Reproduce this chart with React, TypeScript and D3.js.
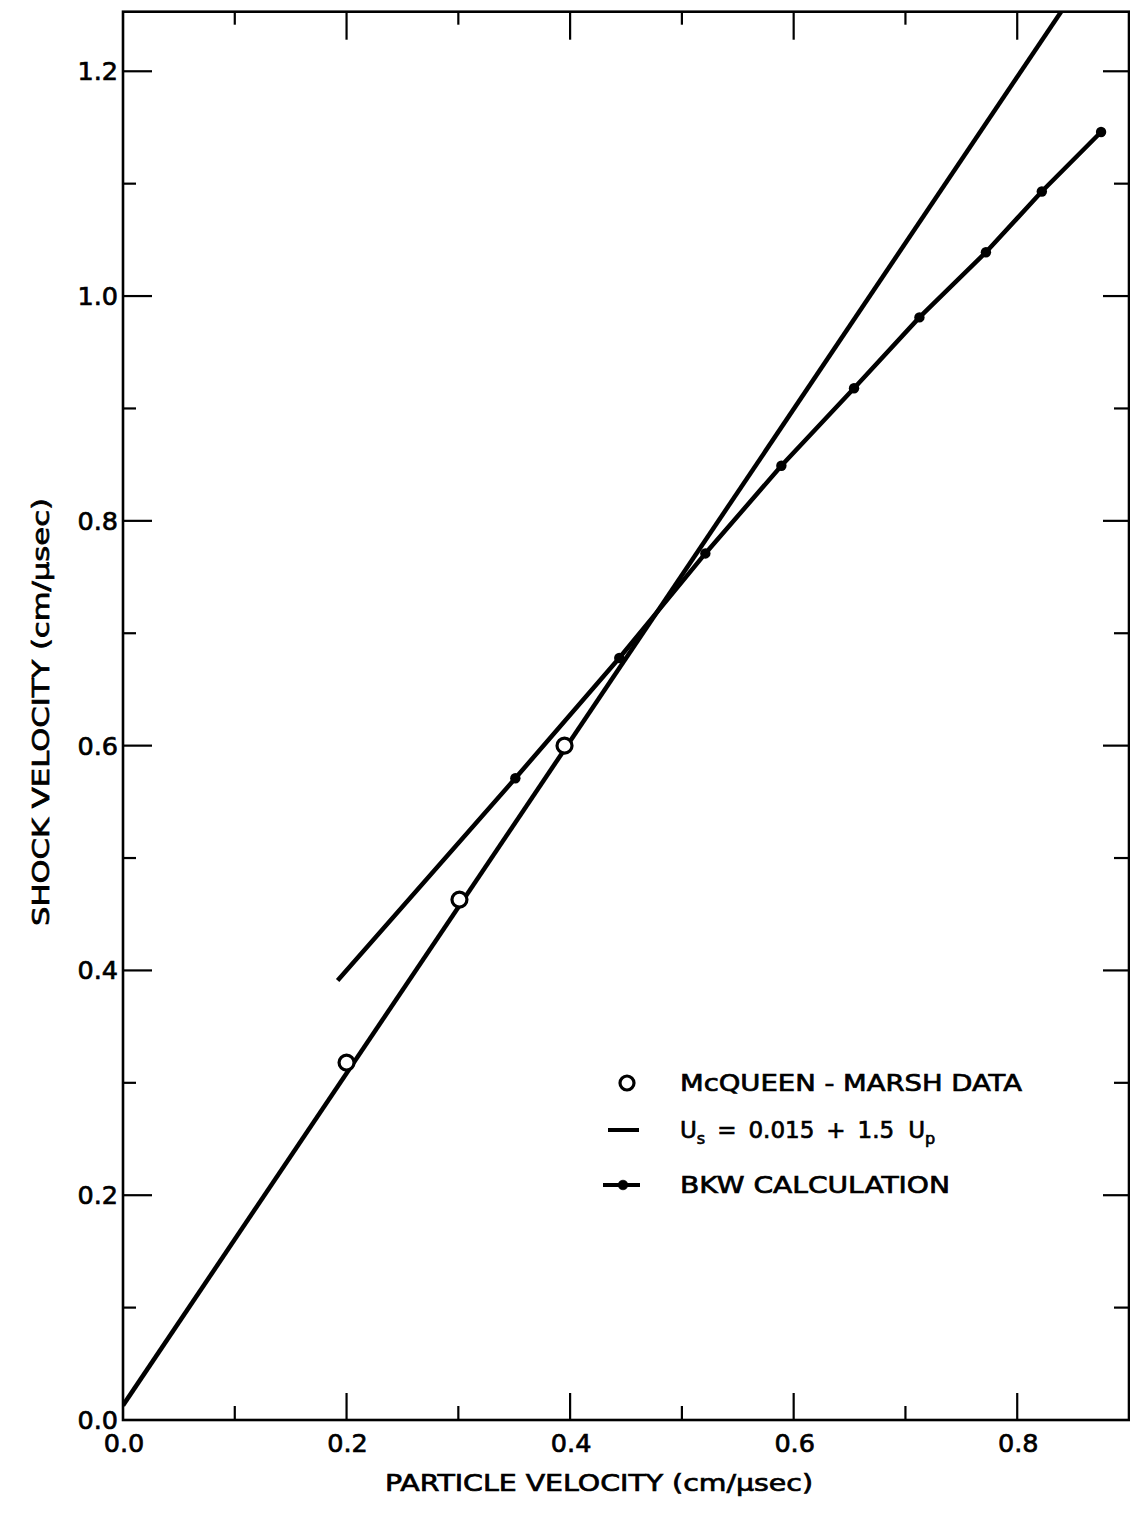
import React from "react";
import * as d3 from "d3";

// ---- data ----
const mcqueenUp = [0.2, 0.301, 0.395];
const mcqueenUs = [0.318, 0.463, 0.6];

const fitUp = [0, 0.84];
const fitUs = [0.013, 1.254];

const bkwUp = [0.192, 0.351, 0.444, 0.521, 0.589, 0.654, 0.7125, 0.772, 0.822, 0.875];
const bkwUs = [0.391, 0.571, 0.678, 0.771, 0.849, 0.918, 0.981, 1.039, 1.093, 1.146];
const bkwDot = [false, true, true, true, true, true, true, true, true, true];

const xTicks = [0, 0.1, 0.2, 0.3, 0.4, 0.5, 0.6, 0.7, 0.8];
const xTickLabels = ["0.0", "", "0.2", "", "0.4", "", "0.6", "", "0.8"];
const yTicks = [0, 0.1, 0.2, 0.3, 0.4, 0.5, 0.6, 0.7, 0.8, 0.9, 1.0, 1.1, 1.2];
const yTickLabels = ["0.0", "", "0.2", "", "0.4", "", "0.6", "", "0.8", "", "1.0", "", "1.2"];

const legendLabels = ["McQUEEN - MARSH DATA", "BKW CALCULATION"];

const W = 1130;
const H = 1517;
const L = 123;
const R = 1129;
const T = 11.7;
const B = 1420;

const FONT = "'DejaVu Sans', 'Liberation Sans', Arial, sans-serif";
const TXT = { fontFamily: FONT, stroke: "#000", strokeWidth: 0.7 } as const;

export default function App() {
  const x = d3.scaleLinear().domain([0, 0.9]).range([L, R]);
  const y = d3.scaleLinear().domain([0, 1.253]).range([B, T]);

  const fitLine = d3
    .line<number>()
    .x((_, i) => x(fitUp[i]))
    .y((d) => y(d));
  const bkwLine = d3
    .line<number>()
    .x((_, i) => x(bkwUp[i]))
    .y((d) => y(d));

  const stroke = "#000";

  return (
    <svg
      width={W}
      height={H}
      viewBox={`0 0 ${W} ${H}`}
      style={{ position: "absolute", left: 0, top: 0, background: "#fff" }}
    >
      <rect x={0} y={0} width={W} height={H} fill="#fff" />
      <defs>
        <clipPath id="plotclip">
          <rect x={L} y={T} width={R - L} height={B - T} />
        </clipPath>
      </defs>

      {/* frame */}
      <rect x={L} y={T} width={R - L} height={B - T} fill="none" stroke={stroke} strokeWidth={2.6} />

      {/* x ticks bottom & top */}
      {xTicks.map((t, i) => {
        const major = xTickLabels[i] !== "";
        const px = x(t);
        return (
          <g key={"xt" + i}>
            {i > 0 && (
              <>
                <line x1={px} x2={px} y1={B} y2={B - (major ? 27 : 14)} stroke={stroke} strokeWidth={2.2} />
                <line x1={px} x2={px} y1={T} y2={T + (major ? 28 : 13)} stroke={stroke} strokeWidth={2.2} />
              </>
            )}
            {major && (
              <text x={px + 1} y={1443} textAnchor="middle" dominantBaseline="central" fontSize={25.5} {...TXT}>
                {xTickLabels[i]}
              </text>
            )}
          </g>
        );
      })}

      {/* y ticks left & right */}
      {yTicks.map((t, i) => {
        const major = yTickLabels[i] !== "";
        const py = y(t);
        return (
          <g key={"yt" + i}>
            {i > 0 && (
              <>
                <line x1={L} x2={L + (major ? 29 : 13)} y1={py} y2={py} stroke={stroke} strokeWidth={2.2} />
                <line x1={R} x2={R - (major ? 26 : 15)} y1={py} y2={py} stroke={stroke} strokeWidth={2.2} />
              </>
            )}
            {major && (
              <text x={L - 5} y={py} textAnchor="end" dominantBaseline="central" fontSize={25.5} {...TXT}>
                {yTickLabels[i]}
              </text>
            )}
          </g>
        );
      })}

      {/* data */}
      <g clipPath="url(#plotclip)">
        <path d={fitLine(fitUs) || ""} fill="none" stroke={stroke} strokeWidth={4.5} />
        <path d={bkwLine(bkwUs) || ""} fill="none" stroke={stroke} strokeWidth={4.5} />
      </g>
      {bkwUs.map((v, i) =>
        bkwDot[i] ? <circle key={"bd" + i} cx={x(bkwUp[i])} cy={y(v)} r={5.2} fill={stroke} /> : null
      )}
      {mcqueenUs.map((v, i) => (
        <circle key={"mc" + i} cx={x(mcqueenUp[i])} cy={y(v)} r={7.5} fill="#fff" stroke={stroke} strokeWidth={3.2} />
      ))}

      {/* legend */}
      <g fontSize={23} {...TXT}>
        <circle cx={627} cy={1083} r={7} fill="#fff" stroke={stroke} strokeWidth={3.2} />
        <text x={680} y={1083} dominantBaseline="central" textLength={342} lengthAdjust="spacingAndGlyphs">
          {legendLabels[0]}
        </text>

        <line x1={608} x2={639} y1={1130} y2={1130} stroke={stroke} strokeWidth={4} />
        <text x={680} y={1130} dominantBaseline="central">
          <tspan>U</tspan>
          <tspan fontSize={16} dy={8}>s</tspan>
          <tspan dy={-8} dx={12}>=</tspan>
          <tspan dx={12}>0.015</tspan>
          <tspan dx={12}>+</tspan>
          <tspan dx={12}>1.5</tspan>
          <tspan dx={14}>U</tspan>
          <tspan fontSize={16} dy={8}>p</tspan>
        </text>

        <line x1={603} x2={640} y1={1185} y2={1185} stroke={stroke} strokeWidth={4} />
        <circle cx={623} cy={1185} r={4.8} fill={stroke} />
        <text x={680} y={1185} dominantBaseline="central" textLength={270} lengthAdjust="spacingAndGlyphs">
          {legendLabels[1]}
        </text>
      </g>

      {/* axis titles */}
      <text
        x={599}
        y={1483}
        textAnchor="middle"
        dominantBaseline="central"
        fontSize={23}
        textLength={428}
        lengthAdjust="spacingAndGlyphs"
        {...TXT}
      >
        PARTICLE VELOCITY (cm/μsec)
      </text>
      <text
        transform={`translate(41, 712) rotate(-90)`}
        textAnchor="middle"
        dominantBaseline="central"
        fontSize={23}
        textLength={428}
        lengthAdjust="spacingAndGlyphs"
        {...TXT}
      >
        SHOCK VELOCITY (cm/μsec)
      </text>
    </svg>
  );
}
